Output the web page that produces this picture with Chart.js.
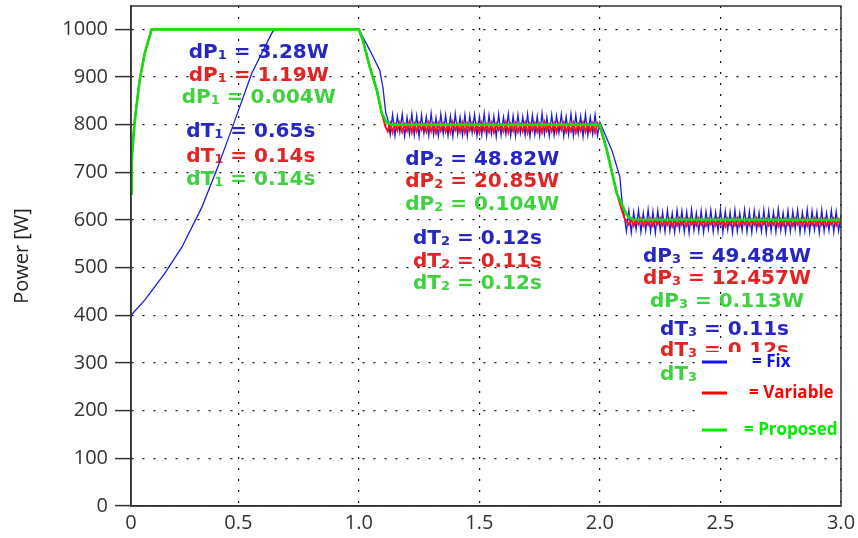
<!DOCTYPE html>
<html>
<head>
<meta charset="utf-8">
<script src="https://cdn.jsdelivr.net/npm/chart.js@4"></script>
<style>
    html, body { margin: 0; padding: 0; background: #fff; }
    #wrap { width: 858px; height: 538px; }
</style>
</head>
<body>
<div id="wrap"><canvas id="powerChart" width="858" height="538"></canvas></div>
<script>
// axes
const xMin = 0.055;
const xMax = 3.0;
const xTickValues = [0.5, 1.0, 1.5, 2.0, 2.5, 3.0];
const xTickLabels = ['0', '0.5', '1.0', '1.5', '2.0', '2.5', '3.0'];
const yTickValues = [0, 100, 200, 300, 400, 500, 600, 700, 800, 900, 1000];

// Fix (blue): start-up ramp and first step down
const fixTime = [0.055, 0.112, 0.195, 0.266, 0.349, 0.415, 0.486, 0.556, 0.639, 0.651, 1.0, 1.046, 1.087, 1.10, 1.112];
const fixPower = [400, 432, 488, 543, 627, 711, 809, 908, 992, 1000, 1000, 956, 914, 878, 824];
// Fix ripple at 800 W, sampled every 0.01 s from 1.12 s
const fixRipple2 = [
    812, 779, 821, 777, 818, 784, 822, 776, 816, 780,
    823, 778, 819, 775, 821, 782, 817, 777, 824, 779,
    815, 776, 822, 781, 820, 777, 818, 775, 823, 780,
    816, 778, 821, 776, 819, 783, 822, 777, 817, 779,
    824, 776, 820, 781, 818, 775, 822, 778, 816, 780,
    823, 777, 819, 776, 821, 782, 817, 778, 822, 775,
    820, 779, 818, 777, 824, 780, 816, 776, 821, 778,
    819, 783, 822, 776, 817, 779, 823, 777, 820, 781,
    818, 775, 822, 778, 816, 780, 821, 777, 805
];
const fixDropTime = [2.05, 2.083, 2.095];
const fixDropPower = [746, 690, 620];
// Fix ripple at 600 W, every 0.01 s from 2.10 s
const fixRipple3 = [
    612, 576, 620, 574, 617, 580, 621, 575, 615, 578,
    622, 576, 618, 573, 620, 579, 616, 575, 621, 577,
    614, 574, 621, 580, 619, 575, 617, 573, 622, 578,
    615, 576, 620, 574, 618, 581, 621, 575, 616, 577,
    623, 574, 619, 579, 617, 573, 621, 576, 615, 578,
    622, 575, 618, 574, 620, 580, 616, 576, 621, 573,
    619, 577, 617, 575, 623, 578, 615, 574, 620, 576,
    618, 581, 621, 574, 616, 577, 622, 575, 619, 579,
    617, 573, 621, 576, 615, 578, 620, 575, 618, 577,
    612
];

// Variable (red)
const varTime = [0.055, 0.058, 0.071, 0.091, 0.112, 0.14, 1.0, 1.017, 1.046, 1.075, 1.095, 1.105];
const varPower = [725, 740, 812, 895, 950, 1000, 1000, 977, 920, 872, 824, 806];
const varRipple2 = [
    796, 786, 803, 784, 801, 788, 804, 785, 800, 787,
    805, 784, 802, 786, 803, 789, 800, 785, 804, 786,
    801, 783, 803, 787, 802, 785, 799, 784, 805, 788,
    800, 785, 804, 784, 802, 788, 803, 786, 801, 783,
    804, 787, 800, 785, 803, 784, 802, 789, 799, 786,
    805, 784, 801, 787, 803, 785, 800, 786, 804, 783,
    802, 788, 803, 785, 801, 784, 805, 787, 800, 786,
    803, 784, 802, 789, 804, 785, 799, 786, 803, 784,
    801, 787, 804, 785, 800, 786, 802, 784, 803, 795
];
const varDropTime = [2.029, 2.07, 2.10];
const varDropPower = [746, 656, 606];
const varRipple3 = [
    597, 590, 602, 588, 601, 591, 603, 589, 600, 590,
    602, 588, 601, 591, 603, 589, 599, 590, 602, 587,
    600, 589, 603, 590, 601, 588, 602, 591, 600, 589,
    603, 590, 599, 588, 602, 591, 601, 589, 603, 590,
    600, 587, 602, 590, 601, 589, 603, 588, 599, 591,
    602, 589, 600, 590, 603, 588, 601, 591, 602, 589,
    599, 590, 603, 587, 601, 589, 602, 590, 600, 588,
    603, 591, 601, 589, 602, 588, 600, 590, 603, 589,
    601, 590, 602, 588, 599, 591, 603, 589, 601, 590
];

// Proposed (green)
const propTime = [0.055, 0.058, 0.071, 0.091, 0.112, 0.141, 1.0, 1.017, 1.046, 1.075, 1.095, 1.116, 1.135, 2.0, 2.029, 2.07, 2.112, 2.137, 3.0];
const propPower = [655, 725, 809, 893, 950, 1000, 1000, 977, 920, 872, 824, 805, 800, 800, 746, 656, 610, 601, 600];

// annotation texts
const stepIndex = ['1', '2', '3'];
const dPFix = ['3.28W', '48.82W', '49.484W'];
const dPVariable = ['1.19W', '20.85W', '12.457W'];
const dPProposed = ['0.004W', '0.104W', '0.113W'];
const dTFix = ['0.65s', '0.12s', '0.11s'];
const dTVariable = ['0.14s', '0.11s', '0.12s'];
const dTProposed = ['0.14s', '0.12s', '0.11s'];
const legendNames = ['Fix', 'Variable', 'Proposed'];

// where the annotation blocks sit, in axis units
const noteCenterX = [[0.585, 0.552], [1.512, 1.492], [2.527, 2.517]];
const noteRowY = [
    [954, 906, 860, 788, 736, 688],
    [730, 683, 635, 564, 516, 470],
    [526, 480, 432, 373, 329, 279]
];

const blue = '#1c1ce0';
const red = '#ff1414';
const green = '#10e010';
const noteColors = ['#2626c4', '#e42424', '#3ed23e'];
const legendColors = ['#1010f0', '#ff0000', '#00ee00'];

function toPoints(times, values) {
    return times.map((t, i) => ({ x: t, y: values[i] }));
}

function ripplePoints(start, values) {
    return values.map((v, i) => ({ x: start + i * 0.01, y: v }));
}

const fixData = [].concat(
    toPoints(fixTime, fixPower),
    ripplePoints(1.12, fixRipple2),
    toPoints(fixDropTime, fixDropPower),
    ripplePoints(2.10, fixRipple3)
);
const varData = [].concat(
    toPoints(varTime, varPower),
    ripplePoints(1.11, varRipple2),
    toPoints(varDropTime, varDropPower),
    ripplePoints(2.11, varRipple3)
);
const propData = toPoints(propTime, propPower);

function drawNote(ctx, cx, cy, sym, idx, val, color) {
    const big = 'bold 20px "DejaVu Sans"';
    const small = 'bold 13px "DejaVu Sans"';
    const rest = ' = ' + val;
    ctx.font = big;
    const w1 = ctx.measureText(sym).width;
    const w3 = ctx.measureText(rest).width;
    ctx.font = small;
    const w2 = ctx.measureText(idx).width;
    let x = cx - (w1 + w2 + w3) / 2;
    const base = cy + 7;
    ctx.fillStyle = color;
    ctx.textBaseline = 'alphabetic';
    ctx.textAlign = 'left';
    ctx.font = big;
    ctx.fillText(sym, x, base);
    x += w1;
    ctx.font = small;
    ctx.fillText(idx, x, base + 1);
    x += w2;
    ctx.font = big;
    ctx.fillText(rest, x, base);
}

const overlayPlugin = {
    id: 'overlay',
    beforeDatasetsDraw(chart) {
        const ctx = chart.ctx;
        const xs = chart.scales.x;
        const ys = chart.scales.y;
        ctx.save();
        for (let b = 0; b < 3; b++) {
            const rows = [
                ['dP', dPFix[b]], ['dP', dPVariable[b]], ['dP', dPProposed[b]],
                ['dT', dTFix[b]], ['dT', dTVariable[b]], ['dT', dTProposed[b]]
            ];
            rows.forEach((r, i) => {
                const cx = xs.getPixelForValue(noteCenterX[b][i < 3 ? 0 : 1]);
                const cy = ys.getPixelForValue(noteRowY[b][i]);
                drawNote(ctx, cx, cy, r[0], stepIndex[b], r[1], noteColors[i % 3]);
            });
        }
        ctx.restore();
    },
    afterDraw(chart) {
        const ctx = chart.ctx;
        const area = chart.chartArea;
        ctx.save();
        // legend box
        const left = area.right - 144;
        const top = 352;
        ctx.fillStyle = '#fff';
        ctx.fillRect(left, top, area.right - left, 93);
        const rowY = [top + 10, top + 41, top + 78];
        const textX = [left + 55, left + 52, left + 47];
        ctx.font = 'bold 17px "Open Sans"';
        ctx.textBaseline = 'middle';
        ctx.textAlign = 'left';
        legendNames.forEach((name, i) => {
            ctx.strokeStyle = legendColors[i];
            ctx.lineWidth = 3;
            ctx.beginPath();
            ctx.moveTo(left + 5, rowY[i]);
            ctx.lineTo(left + 30, rowY[i]);
            ctx.stroke();
            ctx.fillStyle = legendColors[i];
            ctx.fillText('= ' + name, textX[i], rowY[i]);
        });
        // frame
        ctx.strokeStyle = '#333';
        ctx.lineWidth = 1.5;
        ctx.strokeRect(area.left, area.top, area.right - area.left, area.bottom - area.top);
        ctx.restore();
    }
};

const ctx = document.getElementById('powerChart').getContext('2d');
const powerChart = new Chart(ctx, {
    type: 'line',
    data: {
        datasets: [
            { label: 'Fix', data: fixData, borderColor: blue, borderWidth: 1.3, order: 3 },
            { label: 'Variable', data: varData, borderColor: red, borderWidth: 2, order: 2 },
            { label: 'Proposed', data: propData, borderColor: green, borderWidth: 2.6, order: 1 }
        ]
    },
    options: {
        responsive: false,
        animation: false,
        layout: { padding: { top: 6, right: 17, bottom: 0, left: 0 } },
        elements: { point: { radius: 0 }, line: { tension: 0 } },
        plugins: {
            legend: { display: false },
            tooltip: { enabled: false }
        },
        scales: {
            x: {
                type: 'linear',
                min: xMin,
                max: xMax,
                afterBuildTicks(scale) {
                    scale.ticks = [xMin].concat(xTickValues).map(v => ({ value: v }));
                },
                afterFit(scale) {
                    scale.height = 32;
                    scale.paddingLeft = 0;
                    scale.paddingRight = 0;
                },
                ticks: {
                    autoSkip: false,
                    maxRotation: 0,
                    padding: 5,
                    color: '#333',
                    font: { family: 'Open Sans', size: 20 },
                    callback: (value, index) => xTickLabels[index]
                },
                grid: { color: '#111', lineWidth: 1.2, drawTicks: false },
                border: { color: '#333', width: 1.5, dash: [2, 9] }
            },
            y: {
                min: 0,
                max: 1049,
                afterBuildTicks(scale) {
                    scale.ticks = yTickValues.map(v => ({ value: v }));
                },
                afterFit(scale) {
                    scale.width = 131;
                    scale.paddingTop = 0;
                    scale.paddingBottom = 0;
                },
                title: {
                    display: true,
                    text: 'Power [W]',
                    color: '#222',
                    font: { family: 'Open Sans', size: 20 },
                    padding: { top: 10, bottom: 0 }
                },
                ticks: {
                    padding: 7,
                    color: '#333',
                    font: { family: 'Open Sans', size: 20 },
                    callback: value => String(value)
                },
                grid: {
                    color: '#111',
                    lineWidth: 1.2,
                    tickLength: 16,
                    tickColor: '#333',
                    tickWidth: 1.5
                },
                border: { color: '#333', width: 1.5, dash: [2, 9] }
            }
        }
    },
    plugins: [overlayPlugin]
});
</script>
</body>
</html>
